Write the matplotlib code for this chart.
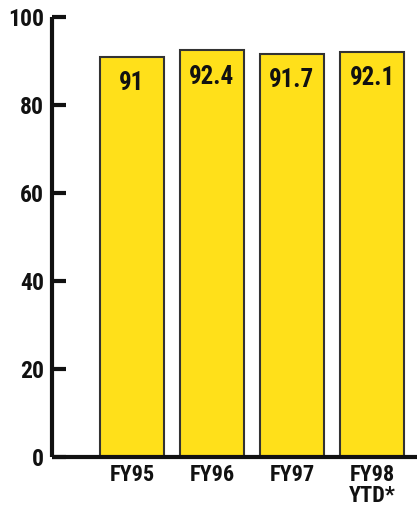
import matplotlib
matplotlib.use("Agg")
import matplotlib.pyplot as plt
from matplotlib import font_manager

categories = ["FY95", "FY96", "FY97", "FY98\nYTD*"]
values = [91, 92.4, 91.7, 92.1]
value_labels = ["91", "92.4", "91.7", "92.1"]
yticks = [0, 20, 40, 60, 80, 100]

# pick a condensed bold sans if one is installed
bold_fonts = {f.name for f in font_manager.fontManager.ttflist if f.weight >= 600}
candidates = ["Roboto Condensed", "Fira Sans Condensed", "Asap Condensed",
              "IBM Plex Sans Condensed", "Archivo Narrow", "PT Sans Narrow",
              "Open Sans Condensed", "Barlow Semi Condensed", "Saira SemiCondensed"]
family = next((c for c in candidates if c in bold_fonts), "DejaVu Sans")

W, H = 417, 507
fig = plt.figure(figsize=(W / 100, H / 100), dpi=100)
ax = fig.add_axes([52 / W, (H - 457) / H, (W - 52) / W, (457 - 17) / H])

x = range(len(categories))
ax.bar(x, values, width=0.8, color="#FFE01A", edgecolor="#333333", linewidth=1.5, zorder=2)

for xi, v, lab in zip(x, values, value_labels):
    ax.text(xi, v - 6, lab, ha="center", va="center", fontsize=18,
            fontweight="bold", family=family, color="#111111")

ax.set_xlim(-1.0, 3.5625)
ax.set_ylim(0, 100)
ax.set_yticks(yticks)
ax.set_yticklabels([str(t) for t in yticks], fontsize=17, fontweight="bold", family=family)
ax.set_xticks(list(x))
ax.set_xticklabels(categories, fontsize=16, fontweight="bold", family=family, linespacing=0.95)
ax.tick_params(axis="y", direction="in", length=10, width=3, pad=5.5, colors="#111111")
ax.tick_params(axis="x", length=0, pad=5, colors="#111111")

for side in ("top", "right"):
    ax.spines[side].set_visible(False)
for side in ("left", "bottom"):
    ax.spines[side].set_linewidth(3)
    ax.spines[side].set_color("#111111")
    ax.spines[side].set_capstyle("butt")

fig.savefig("out.png", dpi=100)
